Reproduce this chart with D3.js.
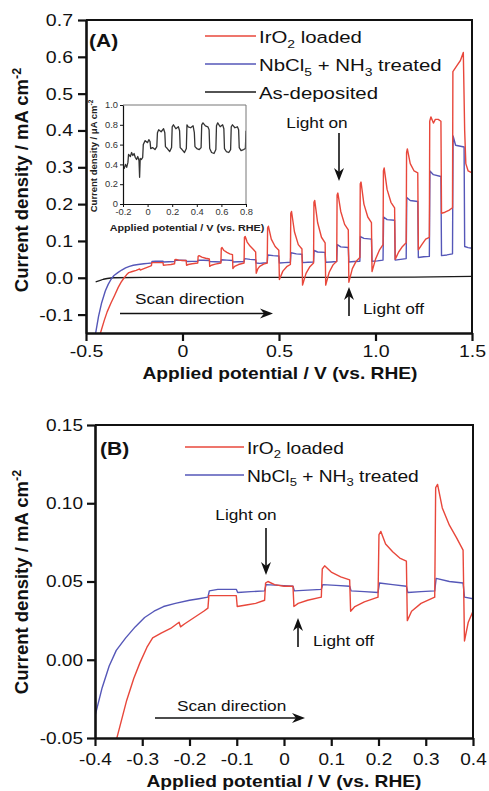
<!DOCTYPE html>
<html>
<head>
<meta charset="utf-8">
<title>Chopped-light LSV</title>
<script src="https://cdn.jsdelivr.net/npm/d3@7"></script>
<style>
  body { margin: 0; background: #fff; }
</style>
</head>
<body>
<svg id="canvas"></svg>
<script>
// ---- data: [potential V vs RHE, current density] ----
var irO2 = [
  [-0.45,-0.19],[-0.425,-0.15],[-0.405,-0.115],[-0.39,-0.092],[-0.37,-0.068],[-0.352,-0.048],
  [-0.333,-0.026],[-0.318,-0.012],[-0.305,-0.002],[-0.29,0.008],[-0.278,0.014],[-0.26,0.017],
  [-0.24,0.020],[-0.222,0.024],[-0.219,0.021],[-0.21,0.023],[-0.19,0.027],[-0.17,0.031],
  [-0.161,0.033],[-0.159,0.041],[-0.13,0.041],[-0.101,0.041],[-0.099,0.034],[-0.08,0.035],
  [-0.06,0.036],[-0.041,0.038],[-0.039,0.049],[-0.034,0.050],[-0.02,0.048],[0.0,0.047],
  [0.019,0.047],[0.021,0.034],[0.03,0.036],[0.05,0.038],[0.079,0.040],[0.081,0.058],
  [0.086,0.060],[0.10,0.056],[0.12,0.053],[0.139,0.051],[0.141,0.031],[0.15,0.034],
  [0.17,0.037],[0.199,0.040],[0.201,0.080],[0.205,0.082],[0.215,0.074],[0.23,0.069],
  [0.245,0.065],[0.259,0.063],[0.261,0.025],[0.27,0.031],[0.29,0.036],[0.319,0.040],
  [0.321,0.110],[0.325,0.112],[0.335,0.097],[0.35,0.086],[0.365,0.078],[0.379,0.070],
  [0.382,0.012],[0.39,0.024],[0.40,0.031],[0.42,0.037],[0.439,0.040],[0.441,0.135],
  [0.445,0.140],[0.46,0.105],[0.48,0.085],[0.499,0.075],[0.502,-0.005],[0.52,0.018],
  [0.54,0.030],[0.559,0.036],[0.561,0.175],[0.565,0.180],[0.58,0.125],[0.60,0.090],
  [0.619,0.078],[0.622,-0.020],[0.64,0.012],[0.66,0.030],[0.679,0.040],[0.681,0.205],
  [0.685,0.210],[0.70,0.150],[0.72,0.110],[0.739,0.095],[0.742,-0.020],[0.76,0.015],
  [0.78,0.035],[0.799,0.045],[0.801,0.225],[0.805,0.230],[0.82,0.180],[0.84,0.145],
  [0.859,0.130],[0.862,-0.012],[0.88,0.025],[0.90,0.045],[0.919,0.055],[0.921,0.255],
  [0.925,0.260],[0.94,0.200],[0.96,0.165],[0.979,0.150],[0.982,0.017],[1.0,0.050],
  [1.02,0.075],[1.039,0.090],[1.041,0.290],[1.045,0.298],[1.06,0.240],[1.08,0.205],
  [1.099,0.190],[1.102,0.050],[1.12,0.070],[1.14,0.085],[1.159,0.095],[1.161,0.340],
  [1.165,0.350],[1.18,0.310],[1.20,0.290],[1.219,0.285],[1.222,0.076],[1.24,0.090],
  [1.26,0.105],[1.279,0.110],[1.281,0.425],[1.287,0.437],[1.30,0.420],[1.31,0.430],
  [1.325,0.430],[1.339,0.425],[1.342,0.175],[1.36,0.178],[1.38,0.183],[1.399,0.190],
  [1.401,0.560],[1.42,0.575],[1.44,0.590],[1.455,0.612],[1.462,0.400],[1.468,0.310],
  [1.48,0.290],[1.50,0.285]
];
var nbcl5 = [
  [-0.47,-0.22],[-0.45,-0.15],[-0.435,-0.105],[-0.42,-0.07],[-0.40,-0.036],[-0.385,-0.018],
  [-0.37,-0.004],[-0.355,0.006],[-0.335,0.014],[-0.315,0.021],[-0.295,0.027],[-0.275,0.031],
  [-0.255,0.034],[-0.23,0.036],[-0.20,0.038],[-0.18,0.039],[-0.161,0.040],[-0.158,0.044],
  [-0.14,0.045],[-0.12,0.045],[-0.101,0.045],[-0.098,0.043],[-0.07,0.0435],[-0.041,0.044],
  [-0.038,0.048],[-0.01,0.0475],[0.019,0.047],[0.022,0.044],[0.05,0.0445],[0.079,0.045],
  [0.082,0.048],[0.11,0.0475],[0.139,0.047],[0.142,0.044],[0.17,0.0435],[0.199,0.043],
  [0.202,0.049],[0.23,0.048],[0.259,0.047],[0.262,0.043],[0.29,0.0435],[0.319,0.044],
  [0.322,0.052],[0.35,0.050],[0.379,0.049],[0.382,0.040],[0.40,0.039],[0.42,0.040],
  [0.439,0.041],[0.442,0.062],[0.47,0.060],[0.499,0.059],[0.502,0.040],[0.53,0.041],
  [0.559,0.042],[0.562,0.068],[0.59,0.065],[0.619,0.064],[0.622,0.041],[0.65,0.042],
  [0.679,0.043],[0.682,0.074],[0.70,0.070],[0.739,0.069],[0.742,0.042],[0.77,0.043],
  [0.799,0.044],[0.802,0.090],[0.82,0.084],[0.859,0.082],[0.862,0.043],[0.89,0.044],
  [0.919,0.045],[0.922,0.112],[0.94,0.107],[0.979,0.105],[0.982,0.045],[1.01,0.046],
  [1.039,0.048],[1.042,0.165],[1.06,0.158],[1.099,0.156],[1.102,0.048],[1.13,0.050],
  [1.159,0.052],[1.162,0.218],[1.18,0.210],[1.219,0.207],[1.222,0.055],[1.25,0.057],
  [1.279,0.058],[1.282,0.290],[1.30,0.280],[1.339,0.275],[1.342,0.060],[1.37,0.062],
  [1.399,0.065],[1.402,0.385],[1.415,0.360],[1.459,0.355],[1.462,0.085],[1.48,0.082],
  [1.50,0.080]
];
var asDep = [
  [-0.45,-0.011],[-0.43,-0.008],[-0.41,-0.004],[-0.39,-0.002],[-0.36,0.0],[-0.2,0.001],
  [0.3,0.001],[0.8,0.001],[1.2,0.002],[1.5,0.004]
];
// inset, µA cm-2
var asDepInset = [
  [-0.2,0.38],[-0.19,0.36],[-0.18,0.40],[-0.17,0.37],[-0.16,0.42],[-0.155,0.50],[-0.14,0.48],
  [-0.13,0.52],[-0.12,0.49],[-0.11,0.51],[-0.10,0.47],[-0.09,0.45],[-0.08,0.48],[-0.07,0.44],
  [-0.065,0.27],[-0.06,0.46],[-0.05,0.45],[-0.04,0.47],[-0.035,0.60],[-0.02,0.64],[0.0,0.62],
  [0.01,0.65],[0.02,0.63],[0.025,0.56],[0.04,0.57],[0.06,0.55],[0.075,0.58],[0.08,0.72],
  [0.09,0.75],[0.11,0.73],[0.13,0.76],[0.14,0.72],[0.145,0.58],[0.16,0.56],[0.18,0.53],
  [0.195,0.57],[0.2,0.78],[0.21,0.80],[0.23,0.76],[0.25,0.78],[0.26,0.74],[0.265,0.57],
  [0.28,0.55],[0.30,0.52],[0.315,0.56],[0.32,0.80],[0.33,0.78],[0.35,0.77],[0.37,0.79],
  [0.38,0.72],[0.385,0.58],[0.40,0.56],[0.42,0.55],[0.435,0.57],[0.44,0.80],[0.45,0.82],
  [0.47,0.79],[0.49,0.78],[0.50,0.75],[0.505,0.56],[0.52,0.52],[0.54,0.51],[0.555,0.55],
  [0.56,0.79],[0.57,0.82],[0.59,0.78],[0.61,0.80],[0.62,0.76],[0.625,0.56],[0.64,0.53],
  [0.66,0.52],[0.675,0.55],[0.68,0.78],[0.69,0.80],[0.71,0.77],[0.73,0.78],[0.74,0.75],
  [0.745,0.57],[0.76,0.54],[0.78,0.55],[0.795,0.56],[0.80,0.74]
];

var xTicksA = [-0.5, 0, 0.5, 1.0, 1.5];
var yTicksA = [-0.1, 0.0, 0.1, 0.2, 0.3, 0.4, 0.5, 0.6, 0.7];
var xTicksB = [-0.4, -0.3, -0.2, -0.1, 0, 0.1, 0.2, 0.3, 0.4];
var yTicksB = [-0.05, 0.0, 0.05, 0.10, 0.15];
var xTicksInset = [-0.2, 0, 0.2, 0.4, 0.6, 0.8];
var yTicksInset = [0, 0.2, 0.4, 0.6, 0.8, 1.0];

var RED = "#e8473b", BLUE = "#5557b8", BLACK = "#1a1a1a";
var FONT = "'Liberation Sans', Arial, Helvetica, sans-serif";

var W = 489, H = 791;
var svg = d3.select("#canvas").attr("width", W).attr("height", H);
svg.append("rect").attr("width", W).attr("height", H).attr("fill", "#fff");
var defs = svg.append("defs");

// text with sub/superscripts, stretched horizontally like the scan
function addText(g, x, y, parts, o) {
  var sx = o.sx || 1;
  var t = g.append("text")
    .attr("transform", o.rotate ? "translate(" + x + "," + y + ") rotate(-90) scale(" + sx + ",1)"
                                : "translate(" + x + "," + y + ") scale(" + sx + ",1)")
    .attr("font-family", FONT)
    .attr("font-size", o.size)
    .attr("font-weight", o.bold ? "bold" : "normal")
    .attr("text-anchor", o.anchor || "start")
    .attr("fill", o.fill || "#111");
  var shift = 0;
  parts.forEach(function(p) {
    if (typeof p === "string") {
      t.append("tspan").attr("dy", -shift).text(p);
      shift = 0;
    } else {
      var s = p.sup ? -0.38 * o.size : 0.28 * o.size;
      t.append("tspan").attr("dy", s - shift).attr("font-size", o.size * 0.68).text(p.t);
      shift = s;
    }
  });
  return t;
}

function arrow(g, x1, y1, x2, y2) {
  var dx = x2 - x1, dy = y2 - y1, L = Math.sqrt(dx * dx + dy * dy);
  var ux = dx / L, uy = dy / L, nx = -uy, ny = ux;
  var head = 13, hw = 5, notch = 4;
  var bx = x2 - ux * head, by = y2 - uy * head;
  var cx = x2 - ux * (head - notch), cy = y2 - uy * (head - notch);
  g.append("line").attr("x1", x1).attr("y1", y1).attr("x2", cx).attr("y2", cy)
    .attr("stroke", "#111").attr("stroke-width", 1.6);
  g.append("path")
    .attr("d", "M" + x2 + "," + y2 + "L" + (bx + nx * hw) + "," + (by + ny * hw) +
               "L" + cx + "," + cy + "L" + (bx - nx * hw) + "," + (by - ny * hw) + "Z")
    .attr("fill", "#111");
}

function drawPanel(p) {
  var g = svg.append("g");
  var x = d3.scaleLinear().domain(p.xDomain).range([p.left, p.right]);
  var y = d3.scaleLinear().domain(p.yDomain).range([p.bottom, p.top]);
  defs.append("clipPath").attr("id", "clip" + p.id).append("rect")
    .attr("x", p.left).attr("y", p.top)
    .attr("width", p.right - p.left).attr("height", p.bottom - p.top);
  var line = d3.line().x(function(d) { return x(d[0]); }).y(function(d) { return y(d[1]); });
  p.series.forEach(function(s) {
    g.append("path").attr("d", line(s.data))
      .attr("fill", "none").attr("stroke", s.color).attr("stroke-width", s.width)
      .attr("stroke-linejoin", "round")
      .attr("clip-path", "url(#clip" + p.id + ")");
  });
  // top & right border
  g.append("path")
    .attr("d", "M" + p.left + "," + p.top + "H" + p.right + "V" + p.bottom)
    .attr("fill", "none").attr("stroke", p.borderColor || "#111").attr("stroke-width", p.borderW);

  var xa = g.append("g").attr("transform", "translate(0," + p.bottom + ")")
    .call(d3.axisBottom(x).tickValues(p.xTicks).tickFormat(p.xFmt)
      .tickSize(p.tick).tickSizeOuter(0).tickPadding(p.xPad));
  var ya = g.append("g").attr("transform", "translate(" + p.left + ",0)")
    .call(d3.axisLeft(y).tickValues(p.yTicks).tickFormat(p.yFmt)
      .tickSize(p.tick).tickSizeOuter(0).tickPadding(p.yPad));
  [xa, ya].forEach(function(a) {
    a.attr("font-family", FONT).attr("font-size", p.fs);
    a.select(".domain").attr("stroke", "#111").attr("stroke-width", p.axisW);
    a.selectAll(".tick line").attr("stroke", "#111").attr("stroke-width", p.tickW);
    a.selectAll(".tick text").attr("fill", p.tickColor || "#111")
      .attr("transform", "scale(" + p.sx + ",1)");
  });
  ya.selectAll(".tick text").attr("x", -(p.tick + p.yPad) / p.sx);
  return g;
}

function fmt1(d) { return d === 0 ? "0" : d.toFixed(1); }

// ---- panel A ----
var gA = drawPanel({
  id: "A", left: 86, right: 472, top: 20, bottom: 333,
  xDomain: [-0.5, 1.5], yDomain: [-0.15, 0.7],
  xTicks: xTicksA, yTicks: yTicksA,
  xFmt: fmt1, yFmt: function(d) { return d.toFixed(1); },
  tick: 8, xPad: 4, yPad: 5, fs: 17, sx: 1.15,
  axisW: 2.6, tickW: 2.2, borderW: 2,
  series: [
    { data: asDep, color: BLACK, width: 1.3 },
    { data: nbcl5, color: BLUE, width: 1.4 },
    { data: irO2, color: RED, width: 1.4 }
  ]
});

addText(gA, 89, 47, ["(A)"], { size: 17.5, bold: true, sx: 1.2 });
addText(gA, 280, 379, ["Applied potential / V (vs. RHE)"], { size: 16, bold: true, sx: 1.2, anchor: "middle" });
addText(gA, 28, 180, ["Current density / mA cm", { t: "-2", sup: true }], { size: 18.5, bold: true, anchor: "middle", rotate: true });

var legendA = [
  { color: RED, y: 36, parts: ["IrO", { t: "2" }, " loaded"] },
  { color: BLUE, y: 64, parts: ["NbCl", { t: "5" }, " + NH", { t: "3" }, " treated"] },
  { color: BLACK, y: 92, parts: ["As-deposited"] }
];
legendA.forEach(function(l) {
  gA.append("line").attr("x1", 205).attr("x2", 256).attr("y1", l.y).attr("y2", l.y)
    .attr("stroke", l.color).attr("stroke-width", 1.6);
  addText(gA, 259, l.y + 7, l.parts, { size: 17, sx: 1.2 });
});

addText(gA, 317, 128, ["Light on"], { size: 15, sx: 1.15, anchor: "middle" });
arrow(gA, 339, 133, 339, 181);
addText(gA, 363, 314, ["Light off"], { size: 15, sx: 1.15 });
arrow(gA, 349, 316, 349, 287);
addText(gA, 135, 304, ["Scan direction"], { size: 15, sx: 1.15 });
arrow(gA, 120, 313.5, 273, 313.5);

// ---- inset ----
var gI = drawPanel({
  id: "I", left: 123, right: 246, top: 105, bottom: 204,
  xDomain: [-0.2, 0.8], yDomain: [0, 1.0],
  xTicks: xTicksInset, yTicks: yTicksInset,
  xFmt: fmt1, yFmt: fmt1,
  tick: 3, xPad: 2, yPad: 2, fs: 8.5, sx: 1.1,
  axisW: 1.2, tickW: 1, borderW: 1, borderColor: "#777", tickColor: "#333",
  series: [{ data: asDepInset, color: "#333", width: 1.3 }]
});
addText(gI, 187, 231, ["Applied potential / V (vs. RHE)"], { size: 9, bold: true, sx: 1.2, anchor: "middle", fill: "#222" });
addText(gI, 97, 156, ["Current density / \u03bcA cm", { t: "-2", sup: true }], { size: 9.5, bold: true, anchor: "middle", rotate: true, fill: "#222" });

// ---- panel B ----
var gB = drawPanel({
  id: "B", left: 95, right: 473, top: 425, bottom: 738,
  xDomain: [-0.4, 0.4], yDomain: [-0.05, 0.15],
  xTicks: xTicksB, yTicks: yTicksB,
  xFmt: fmt1, yFmt: function(d) { return d.toFixed(2); },
  tick: 8, xPad: 7, yPad: 4, fs: 17, sx: 1.12,
  axisW: 2.6, tickW: 2.2, borderW: 2,
  series: [
    { data: nbcl5, color: BLUE, width: 1.4 },
    { data: irO2, color: RED, width: 1.4 }
  ]
});

addText(gB, 100, 455, ["(B)"], { size: 17.5, bold: true, sx: 1.2 });
addText(gB, 284, 787, ["Applied potential / V (vs. RHE)"], { size: 16, bold: true, sx: 1.2, anchor: "middle" });
addText(gB, 28, 582, ["Current density / mA cm", { t: "-2", sup: true }], { size: 18.5, bold: true, anchor: "middle", rotate: true });

var legendB = [
  { color: RED, y: 447, parts: ["IrO", { t: "2" }, " loaded"] },
  { color: BLUE, y: 475, parts: ["NbCl", { t: "5" }, " + NH", { t: "3" }, " treated"] }
];
legendB.forEach(function(l) {
  gB.append("line").attr("x1", 185).attr("x2", 244).attr("y1", l.y).attr("y2", l.y)
    .attr("stroke", l.color).attr("stroke-width", 1.6);
  addText(gB, 247, l.y + 6.5, l.parts, { size: 16, sx: 1.2 });
});

addText(gB, 246, 520, ["Light on"], { size: 15, sx: 1.15, anchor: "middle" });
arrow(gB, 266, 528, 266, 575);
addText(gB, 313, 646, ["Light off"], { size: 15, sx: 1.15 });
arrow(gB, 298, 647, 298, 618);
addText(gB, 177, 711, ["Scan direction"], { size: 15, sx: 1.15 });
arrow(gB, 155, 718, 305, 718);
</script>
</body>
</html>
